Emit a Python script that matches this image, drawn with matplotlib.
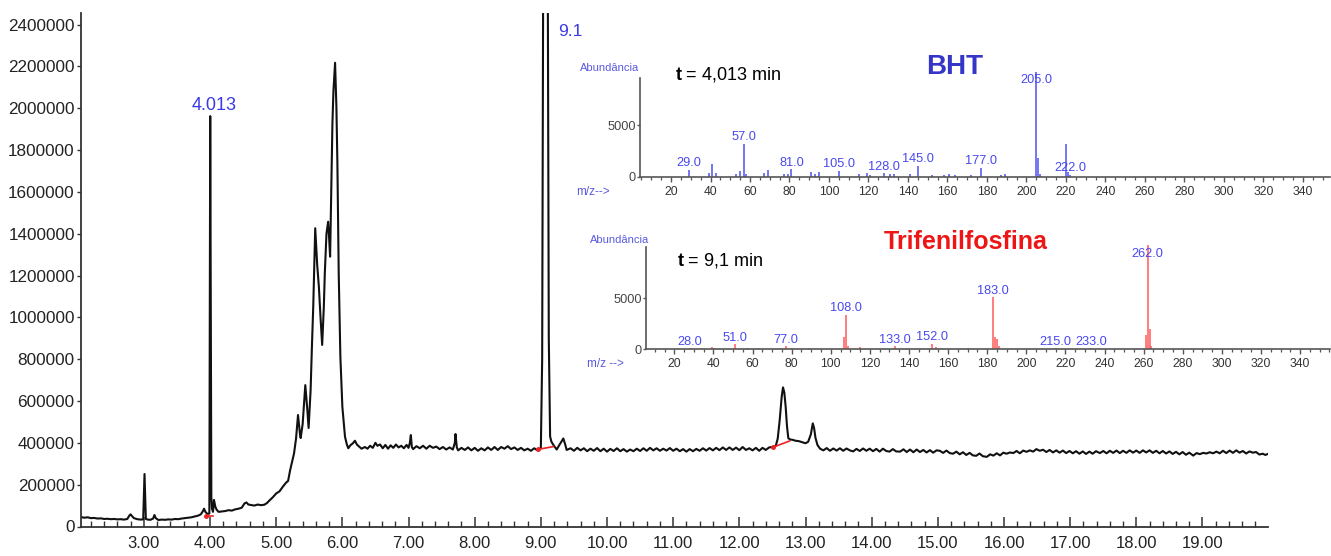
import matplotlib
matplotlib.use("Agg")
import matplotlib.pyplot as plt
from matplotlib.ticker import MultipleLocator, FixedLocator, FuncFormatter

plt.rcParams['font.family'] = ['Liberation Sans', 'DejaVu Sans']
plt.rcParams['mathtext.fontset'] = 'custom'
plt.rcParams['mathtext.rm'] = 'Liberation Sans'
plt.rcParams['mathtext.bf'] = 'Liberation Sans:bold'

# ---------------- TIC chromatogram (retention time in min, abundance in thousands)
rt_min = [
    2.05, 2.10, 2.15, 2.20, 2.25, 2.30, 2.35, 2.40, 2.45, 2.50, 2.55, 2.60, 2.65, 2.70, 2.75,
    2.78, 2.80, 2.82, 2.85, 2.90, 2.95, 2.99, 3.00, 3.01, 3.02, 3.03, 3.06, 3.10, 3.14, 3.16,
    3.18, 3.22, 3.27, 3.32, 3.37, 3.42, 3.47, 3.52, 3.57, 3.62, 3.67, 3.72, 3.77, 3.82, 3.86,
    3.89, 3.91, 3.93, 3.96, 3.99, 4.003, 4.008, 4.013, 4.02, 4.03, 4.045, 4.06, 4.08, 4.10, 4.13,
    4.18, 4.23, 4.28, 4.33, 4.38, 4.43, 4.48, 4.52, 4.55, 4.58, 4.62, 4.67, 4.72, 4.77, 4.82,
    4.86, 4.90, 4.95, 5.00, 5.05, 5.10, 5.15, 5.18, 5.21, 5.24, 5.27, 5.30, 5.33, 5.36, 5.37,
    5.40, 5.44, 5.47, 5.49, 5.52, 5.54, 5.56, 5.59, 5.62, 5.645, 5.67, 5.695, 5.72, 5.735, 5.76,
    5.785, 5.80, 5.815, 5.835, 5.85, 5.865, 5.875, 5.89, 5.90, 5.91, 5.925, 5.945, 5.97, 6.00, 6.04,
    6.07, 6.09, 6.12, 6.16, 6.19, 6.22, 6.25, 6.29, 6.34, 6.38, 6.42, 6.46, 6.50, 6.53, 6.57,
    6.61, 6.65, 6.69, 6.73, 6.77, 6.81, 6.85, 6.89, 6.93, 6.97, 7.00, 7.02, 7.035, 7.05, 7.07,
    7.12, 7.17, 7.22, 7.27, 7.32, 7.37, 7.42, 7.47, 7.52, 7.57, 7.62, 7.67, 7.70, 7.71, 7.73,
    7.75, 7.80, 7.85, 7.90, 7.95, 8.00, 8.05, 8.10, 8.15, 8.20, 8.25, 8.30, 8.35, 8.40, 8.45,
    8.50, 8.55, 8.60, 8.65, 8.70, 8.75, 8.80, 8.85, 8.90, 8.95, 9.00, 9.02, 9.035, 9.07, 9.105,
    9.12, 9.14, 9.16, 9.20, 9.24, 9.28, 9.31, 9.34, 9.37, 9.39, 9.45, 9.50, 9.55, 9.60, 9.65,
    9.70, 9.75, 9.80, 9.85, 9.90, 9.95, 10.00, 10.05, 10.10, 10.15, 10.20, 10.25, 10.30, 10.35, 10.40,
    10.45, 10.50, 10.55, 10.60, 10.65, 10.70, 10.75, 10.80, 10.85, 10.90, 10.95, 11.00, 11.05, 11.10, 11.15,
    11.20, 11.25, 11.30, 11.35, 11.40, 11.45, 11.50, 11.55, 11.60, 11.65, 11.70, 11.75, 11.80, 11.85, 11.90,
    11.95, 12.00, 12.05, 12.10, 12.15, 12.20, 12.25, 12.30, 12.35, 12.40, 12.45, 12.50, 12.55, 12.58, 12.61,
    12.64, 12.66, 12.68, 12.70, 12.72, 12.74, 12.77, 12.81, 12.85, 12.90, 12.95, 13.00, 13.04, 13.08, 13.11,
    13.13, 13.15, 13.18, 13.22, 13.27, 13.32, 13.37, 13.42, 13.47, 13.52, 13.57, 13.62, 13.67, 13.72, 13.77,
    13.82, 13.87, 13.92, 13.97, 14.02, 14.07, 14.12, 14.17, 14.22, 14.27, 14.32, 14.37, 14.43, 14.48, 14.53,
    14.58, 14.63, 14.68, 14.73, 14.78, 14.83, 14.88, 14.93, 14.98, 15.03, 15.08, 15.13, 15.18, 15.23, 15.28,
    15.33, 15.38, 15.43, 15.48, 15.53, 15.58, 15.63, 15.68, 15.74, 15.79, 15.84, 15.89, 15.94, 15.99, 16.04,
    16.09, 16.14, 16.19, 16.24, 16.29, 16.34, 16.39, 16.44, 16.49, 16.54, 16.59, 16.64, 16.69, 16.74, 16.79,
    16.84, 16.89, 16.94, 16.99, 17.04, 17.09, 17.14, 17.19, 17.24, 17.29, 17.34, 17.39, 17.45, 17.50, 17.55,
    17.60, 17.65, 17.70, 17.75, 17.80, 17.85, 17.90, 17.95, 18.00, 18.05, 18.10, 18.15, 18.20, 18.25, 18.30,
    18.35, 18.40, 18.45, 18.50, 18.55, 18.60, 18.65, 18.70, 18.75, 18.80, 18.86, 18.91, 18.96, 19.01, 19.06,
    19.11, 19.16, 19.21, 19.26, 19.31, 19.36, 19.41, 19.46, 19.51, 19.56, 19.61, 19.66, 19.71, 19.76, 19.81,
    19.86, 19.91, 19.95, 19.98,
]
tic_k = [
    45, 42, 44, 40, 41, 38, 39, 36, 37, 35, 36, 34, 35, 33, 36,
    52, 58, 50, 40, 35, 33, 34, 150, 251, 150, 36, 33, 32, 38, 55,
    40, 31, 33, 32, 34, 33, 36, 35, 38, 40, 42, 44, 48, 52, 58,
    72, 85, 70, 60, 62, 1962, 1370, 650, 140, 85, 70, 127, 95, 80, 70,
    72, 74, 78, 76, 82, 85, 90, 110, 115, 105, 103, 100, 105, 102, 104,
    112, 125, 140, 158, 168, 190, 210, 218, 268, 310, 350, 420, 533, 440, 423,
    490, 676, 560, 471, 650, 860, 1051, 1426, 1250, 1147, 1000, 868, 1050, 1212, 1400,
    1457, 1380, 1290, 1650, 1928, 2080, 2135, 2217, 2120, 2007, 1738, 1212, 812, 573, 429,
    390, 374, 388, 398, 410, 392, 383, 372, 380, 372, 386, 376, 400, 386, 392,
    374, 390, 372, 388, 376, 392, 378, 386, 374, 390, 376, 400, 437, 380, 370,
    384, 374, 386, 372, 386, 376, 382, 370, 380, 368, 378, 368, 400, 442, 378,
    364, 376, 366, 378, 364, 376, 362, 374, 364, 378, 366, 380, 366, 380, 372,
    384, 370, 378, 366, 376, 364, 372, 362, 374, 364, 375, 800, 2600, 4000, 2600,
    900, 430, 405, 385, 368, 390, 405, 421, 390, 366, 374, 362, 376, 364, 374,
    360, 372, 362, 375, 360, 372, 358, 371, 361, 374, 360, 370, 358, 368, 360,
    372, 361, 374, 362, 376, 364, 374, 362, 372, 363, 375, 362, 372, 360, 370,
    358, 370, 360, 371, 362, 374, 363, 375, 364, 376, 365, 378, 366, 378, 366,
    377, 365, 380, 366, 374, 364, 376, 362, 376, 366, 378, 380, 385, 420, 509,
    620, 665, 640, 573, 480, 422, 416, 414, 410, 408, 403, 398, 405, 440, 493,
    470, 425, 390, 372, 364, 375, 362, 373, 363, 374, 362, 373, 364, 359, 371,
    361, 373, 362, 372, 360, 371, 358, 372, 361, 358, 370, 359, 358, 369, 356,
    368, 355, 368, 356, 366, 354, 365, 353, 364, 362, 352, 363, 351, 348, 358,
    345, 355, 342, 352, 340, 338, 349, 336, 333, 345, 339, 350, 340, 353, 348,
    354, 351, 361, 350, 363, 357, 364, 358, 370, 362, 367, 356, 366, 354, 364,
    353, 363, 351, 361, 350, 360, 348, 359, 347, 358, 348, 360, 351, 361, 350,
    362, 352, 363, 351, 362, 352, 364, 353, 363, 352, 364, 354, 364, 352, 362,
    350, 361, 349, 359, 347, 357, 345, 356, 343, 353, 339, 351, 346, 352, 349,
    355, 350, 358, 350, 362, 351, 363, 352, 364, 353, 361, 349, 359, 353, 356,
    344, 348, 342, 346,
]

# integration baselines (start/end retention time, start/end abundance in thousands)
baseline_rt = [(3.94, 4.04), (8.96, 9.19), (12.51, 12.76)]
baseline_k = [(52, 52), (369, 382), (379, 409)]

# labelled chromatogram peaks
peak_rt = [4.013, 9.1]
peak_text = ["4.013", "9.1"]

y_ticks = list(range(0, 2400001, 200000))
x_ticks = list(range(3, 20))

# ---------------- mass spectra
bht_mz = [29, 39, 41, 43, 53, 55, 57, 58, 67, 69, 77, 79, 81, 91, 93, 95, 105, 115, 119,
          121, 128, 131, 133, 141, 145, 152, 158, 161, 164, 172, 177, 187, 189, 205, 206,
          207, 220, 221, 222]
bht_ab = [640, 390, 1220, 320, 300, 580, 3150, 300, 320, 640, 300, 250, 710, 420, 300, 450,
          580, 250, 350, 200, 320, 300, 250, 250, 1030, 200, 200, 250, 150, 150, 870, 150,
          300, 10100, 1770, 300, 3150, 500, 200]
bht_labelled = [29, 57, 81, 105, 128, 145, 177, 205, 222]

tpp_mz = [28, 39, 41, 51, 57, 63, 74, 77, 80, 89, 107, 108, 109, 115, 133, 152, 154, 157,
          170, 183, 184, 185, 186, 215, 233, 261, 262, 263, 264]
tpp_ab = [100, 260, 150, 490, 150, 150, 150, 300, 150, 100, 1180, 3370, 300, 200, 300, 520,
          250, 150, 80, 5100, 1240, 1010, 300, 100, 100, 1400, 10230, 1960, 300]
tpp_labelled = [28, 51, 77, 108, 133, 152, 183, 215, 233, 262]

LABEL_CEILING = 8700
MZ_TICKS = list(range(20, 341, 20))

W, H = 1331, 556
fig = plt.figure(figsize=(W / 100, H / 100), dpi=100)
fig.patch.set_facecolor('white')


def px_axes(x0, y_top, x1, y_bot):
    return fig.add_axes([x0 / W, 1 - y_bot / H, (x1 - x0) / W, (y_bot - y_top) / H])


# ---------------- main chromatogram
ax = px_axes(81, 13, 1268, 526.5)
ax.plot(rt_min, [v * 1000 for v in tic_k], color='#111111', lw=1.5, solid_joinstyle='round')
for (t0, t1), (a0, a1) in zip(baseline_rt, baseline_k):
    ax.plot([t0, t1], [a0 * 1000, a1 * 1000], color='#ee2222', lw=1.2)
    ax.plot([t0], [a0 * 1000], marker='o', ms=2.5, color='#ee2222')

ax.set_xlim(2.05, 19.99)
ax.set_ylim(0, 2455000)
for s in ['top', 'right']:
    ax.spines[s].set_visible(False)
for s in ['left', 'bottom']:
    ax.spines[s].set_color('#333333')
    ax.spines[s].set_linewidth(1.3)

ax.yaxis.set_major_locator(FixedLocator(y_ticks))
ax.yaxis.set_major_formatter(FuncFormatter(lambda v, p: f"{int(v)}"))
ax.xaxis.set_major_locator(FixedLocator(x_ticks))
ax.xaxis.set_major_formatter(FuncFormatter(lambda v, p: f"{v:.2f}"))
ax.xaxis.set_minor_locator(MultipleLocator(0.2))
ax.tick_params(axis='y', direction='out', length=3, width=1, pad=1.5,
               labelsize=12.3, labelcolor='#222222', color='#333333')
ax.tick_params(axis='x', which='major', direction='in', length=7, width=1.1, pad=7,
               labelsize=12, labelcolor='#222222', color='#333333')
ax.tick_params(axis='x', which='minor', direction='in', length=4, width=1, color='#333333')

peak_blue = '#3a3ae6'
top_idx = max(range(len(rt_min)), key=lambda i: tic_k[i] if abs(rt_min[i] - peak_rt[0]) < 0.02 else -1)
ax.annotate(peak_text[0], xy=(peak_rt[0], tic_k[top_idx] * 1000), xytext=(2, 8),
            textcoords='offset points', ha='center', va='center',
            fontsize=13, color=peak_blue)
ax.annotate(peak_text[1], xy=(peak_rt[1], 1), xycoords=('data', 'axes fraction'),
            xytext=(8, -13), textcoords='offset points', ha='left', va='center',
            fontsize=12.5, color=peak_blue, annotation_clip=False)


# ---------------- mass-spectrum insets
def spectrum(axm, mz, ab, labelled, color, xlim, ylim_top, spine_top):
    axm.patch.set_alpha(0)
    axm.vlines(mz, 0, ab, color=color, lw=1.1)
    axm.set_xlim(*xlim)
    axm.set_ylim(0, ylim_top)
    for s in ['top', 'right']:
        axm.spines[s].set_visible(False)
    for s in ['left', 'bottom']:
        axm.spines[s].set_color('#555555')
        axm.spines[s].set_linewidth(1.2)
    axm.spines['left'].set_bounds(0, spine_top)
    axm.xaxis.set_major_locator(FixedLocator(MZ_TICKS))
    axm.xaxis.set_minor_locator(MultipleLocator(5))
    axm.yaxis.set_major_locator(FixedLocator([0, 5000]))
    axm.tick_params(axis='x', which='major', direction='out', length=3.5, width=1,
                    pad=3, labelsize=8.7, labelcolor='#333333', color='#555555')
    axm.tick_params(axis='x', which='minor', direction='out', length=2, width=0.9,
                    color='#555555')
    axm.tick_params(axis='y', direction='out', length=2.5, width=1, pad=0.5,
                    labelsize=9.2, labelcolor='#444444', color='#555555')
    for m in labelled:
        h = ab[mz.index(m)]
        axm.annotate(f"{m:.1f}", xy=(m, min(h, LABEL_CEILING)), xytext=(0, 4.8),
                     textcoords='offset points', ha='center', va='center',
                     fontsize=9.2, color='#4848ee', annotation_clip=False)


ax1 = px_axes(640, 71.8, 1330, 176.7)
spectrum(ax1, bht_mz, bht_ab, bht_labelled, '#5050f0', (4.3, 353.7), 10150, 9550)

ax2 = px_axes(646, 244.2, 1330, 349.3)
spectrum(ax2, tpp_mz, tpp_ab, tpp_labelled, '#ff5a5a', (5.5, 355.3), 10300, 10060)

label_blue = '#5a5ade'


def ftext(x, y, s, **kw):
    fig.text(x / W, 1 - y / H, s, **kw)


ftext(610, 68, "Abundância", ha='center', va='center', fontsize=8, color=label_blue)
ftext(593, 192, "m/z-->", ha='center', va='center', fontsize=8.5, color=label_blue)
ftext(620, 240, "Abundância", ha='center', va='center', fontsize=8, color=label_blue)
ftext(605, 364, "m/z -->", ha='center', va='center', fontsize=8.5, color=label_blue)

ftext(675, 75, r"$\mathbf{t}$ = 4,013 min", ha='left', va='center', fontsize=13, color='black')
ftext(677, 260, r"$\mathbf{t}$ = 9,1 min", ha='left', va='center', fontsize=13, color='black')

ftext(955, 67, "BHT", ha='center', va='center', fontsize=20, fontweight='bold', color='#3535c8')
ftext(966, 242, "Trifenilfosfina", ha='center', va='center', fontsize=18,
      fontweight='bold', color='#ee1515')

fig.savefig("out.png", dpi=100, facecolor='white')
